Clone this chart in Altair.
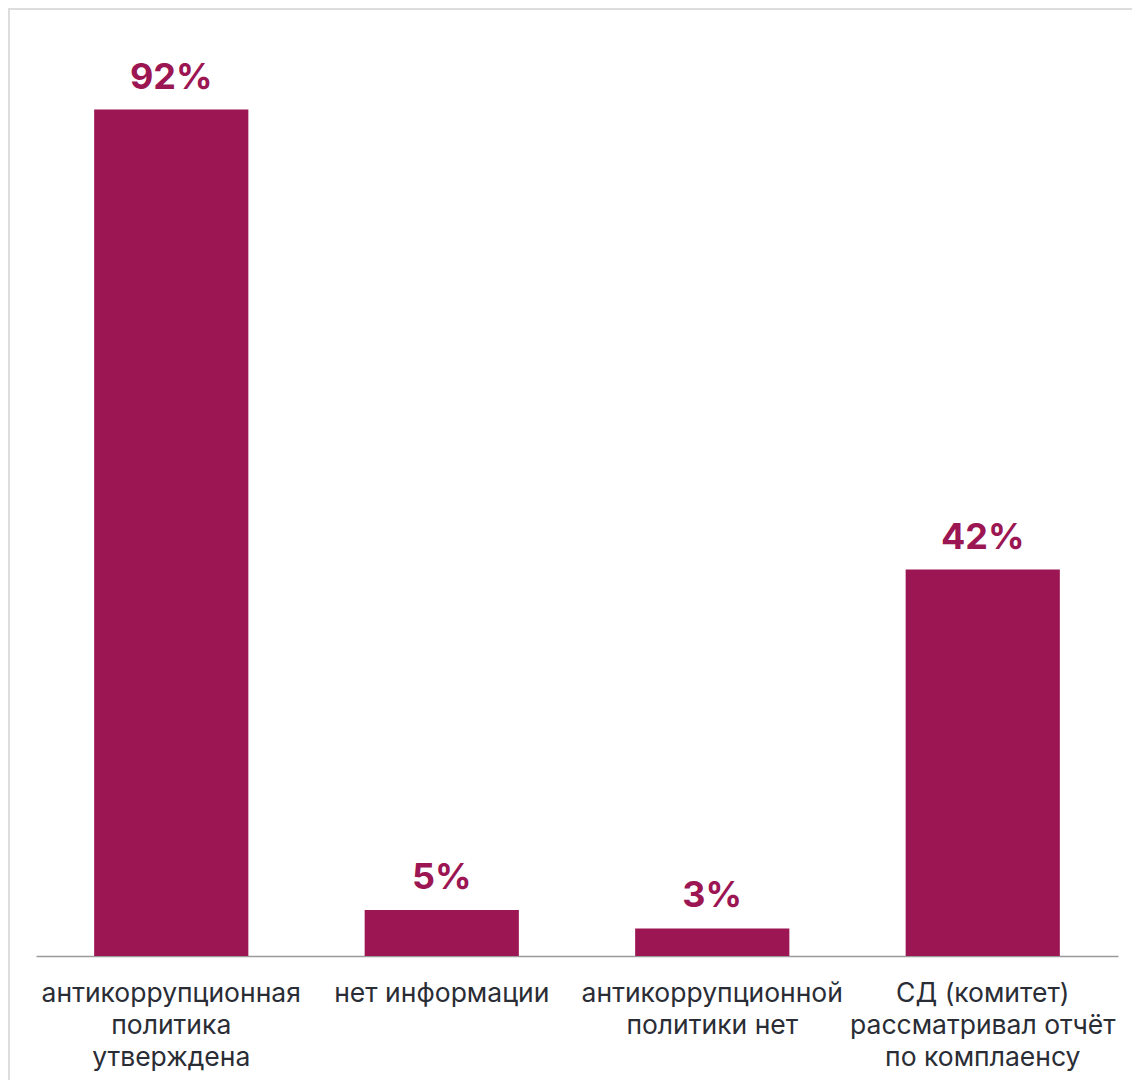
import altair as alt
import pandas as pd

categories = [
    "антикоррупционная|политика|утверждена",
    "нет информации",
    "антикоррупционной|политики нет",
    "СД (комитет)|рассматривал отчёт|по комплаенсу",
]
values = [92, 5, 3, 42]
value_labels = ["92%", "5%", "3%", "42%"]

df = pd.DataFrame({"cat": categories, "value": values, "label": value_labels})

COLOR = "#9B1652"

x = alt.X(
    "cat:N",
    sort=None,
    title=None,
    scale=alt.Scale(paddingInner=0.43, paddingOuter=0.215),
    axis=alt.Axis(
        labelExpr="split(datum.label, '|')",
        labelAngle=0,
        labelFontSize=26.5,
        labelFont="Inter",
        labelColor="#2a2d35",
        labelLineHeight=32,
        labelPadding=24,
        labelBaseline="top",
        ticks=False,
        domainColor="#9a9a9a",
        domainWidth=1.5,
        labelLimit=400,
    ),
)
y = alt.Y("value:Q", scale=alt.Scale(domain=[0, 100]), axis=None)

base = alt.Chart(df)
bars = base.mark_bar(color=COLOR).encode(x=x, y=y)
texts = base.mark_text(
    color=COLOR, fontSize=36, fontWeight="bold", font="Inter",
    baseline="alphabetic", dy=-21
).encode(x=x, y=y, text="label:N")

frame_df = pd.DataFrame({"k": [0]})
left_edge = alt.Chart(frame_df).mark_rule(color="#dddddd", strokeWidth=2).encode(
    x=alt.value(-27), y=alt.value(-28), y2=alt.value(1060)
)
top_edge = alt.Chart(frame_df).mark_rule(color="#dddddd", strokeWidth=2).encode(
    y=alt.value(-27), x=alt.value(-28), x2=alt.value(1110)
)

chart = alt.layer(left_edge, top_edge, bars, texts).properties(
    width=1082,
    height=920,
    autosize=alt.AutoSizeParams(type="none"),
    padding={"left": 28, "top": 28, "right": 14, "bottom": 124},
).configure_view(stroke=None)

chart.save("out.html", embed_options={"renderer": "svg", "actions": False})
